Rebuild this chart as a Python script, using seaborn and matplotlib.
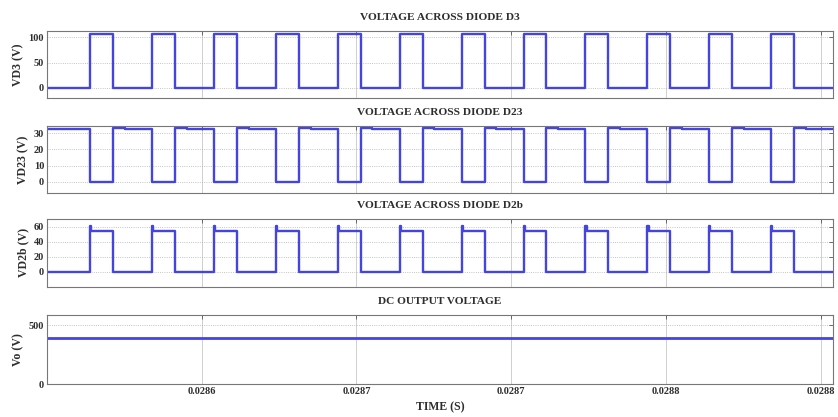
import numpy as np
import pandas as pd
import matplotlib
matplotlib.use("Agg")
import matplotlib.pyplot as plt
import seaborn as sns

# Switching instants of the diode D3 pulses (s)
t_on = [0.028564, 0.028584, 0.028604, 0.028624, 0.028644, 0.028664,
        0.028684, 0.028704, 0.028724, 0.028744, 0.028764, 0.028784]
t_off = [0.0285714, 0.0285914, 0.0286114, 0.0286314, 0.0286514, 0.0286714,
         0.0286914, 0.0287114, 0.0287314, 0.0287514, 0.0287714, 0.0287914]

# Voltage levels (V)
vd3_levels = [0.0, 107.0]          # off, on
vd23_levels = [33.4, 32.8, 0.0]    # first part of high, high, low
vd2b_levels = [0.0, 61.0, 55.0]    # low, overshoot, high
vo_level = [390.0]

t_start, t_end = 0.02855, 0.028804

xtick_pos = [0.0286, 0.02865, 0.0287, 0.02875, 0.0288]
xtick_labels = ["0.0286", "0.0287", "0.0287", "0.0288", "0.0288"]

titles = ["VOLTAGE ACROSS DIODE D3", "VOLTAGE ACROSS DIODE D23",
          "VOLTAGE ACROSS DIODE D2b", "DC OUTPUT VOLTAGE"]
ylabels = ["VD3 (V)", "VD23 (V)", "VD2b (V)", "Vo (V)"]
yticks = [[0, 50, 100], [0, 10, 20, 30], [0, 20, 40, 60], [0, 500]]
ylims = [(-20, 113), (-7, 34.5), (-20, 70.5), (0, 586)]

# ---- build step waveforms from the switching instants ----
def vd3_wave():
    t, v = [t_start], [vd3_levels[0]]
    for a, b in zip(t_on, t_off):
        t += [a, b]; v += [vd3_levels[1], vd3_levels[0]]
    t.append(t_end); v.append(vd3_levels[0])
    return t, v

def vd23_wave():
    t, v = [t_start], [vd23_levels[1]]
    for a, b in zip(t_on, t_off):
        t += [a, b, b + 0.3 * (0.00002 - (b - a))]
        v += [vd23_levels[2], vd23_levels[0], vd23_levels[1]]
    t.append(t_end); v.append(vd23_levels[1])
    return t, v

def vd2b_wave():
    t, v = [t_start], [vd2b_levels[0]]
    for a, b in zip(t_on, t_off):
        t += [a, a + 4e-7, b]
        v += [vd2b_levels[1], vd2b_levels[2], vd2b_levels[0]]
    t.append(t_end); v.append(vd2b_levels[0])
    return t, v

def vo_wave():
    return [t_start, t_end], [vo_level[0], vo_level[0]]

waves = [vd3_wave(), vd23_wave(), vd2b_wave(), vo_wave()]

sns.set_theme(style="white")
plt.rcParams["font.family"] = ["Liberation Serif", "DejaVu Serif"]

fig = plt.figure(figsize=(8.38, 4.17), dpi=100)
left, width = 0.056, 0.938
bottoms = [0.765, 0.537, 0.312, 0.079]
heights = [0.161, 0.161, 0.163, 0.165]
line_color = "#4444e0"
text_color = "#2e2e2e"

for i in range(4):
    ax = fig.add_axes([left, bottoms[i], width, heights[i]])
    t, v = waves[i]
    df = pd.DataFrame({"time": t, "volt": v})
    sns.lineplot(data=df, x="time", y="volt", ax=ax, estimator=None,
                 sort=False, color=line_color, linewidth=1.7 if i < 3 else 2.0,
                 drawstyle="steps-post")
    ax.set_xlim(t_start, t_end)
    ax.set_ylim(*ylims[i])
    ax.set_xticks(xtick_pos)
    ax.set_yticks(yticks[i])
    ax.set_yticklabels([str(y) for y in yticks[i]], fontsize=7.5,
                       fontweight="bold", color=text_color)
    if i == 3:
        ax.set_xticklabels(xtick_labels, fontsize=7.5, fontweight="bold",
                           color=text_color)
        ax.set_xlabel("TIME (S)", fontsize=8.5, fontweight="bold",
                      color=text_color, labelpad=4)
    else:
        ax.set_xticklabels([])
        ax.set_xlabel("")
    ax.set_ylabel(ylabels[i], fontsize=8.5, fontweight="bold",
                  color=text_color, labelpad=3)
    ax.set_title(titles[i], fontsize=8.2, fontweight="bold",
                 color=text_color, pad=8)
    ax.tick_params(axis="both", direction="in", length=3, width=0.6,
                   colors="#555555", pad=2, top=True, right=True)
    ax.tick_params(axis="both", labelcolor=text_color)
    ax.grid(True, axis="y", linestyle=":", linewidth=0.6, color="#b0b0b0")
    ax.grid(True, axis="x", linestyle="-", linewidth=0.6, color="#c8c8c8")
    for s in ax.spines.values():
        s.set_color("#777777")
        s.set_linewidth(0.8)

fig.savefig("out.png", dpi=100, facecolor="white")
